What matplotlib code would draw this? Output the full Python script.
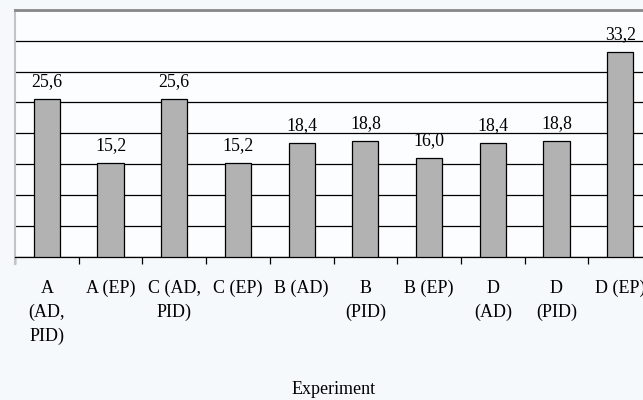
import numpy as np
import matplotlib.pyplot as plt

plt.rcParams['font.family'] = ['Liberation Serif', 'DejaVu Serif']

# experiment groups and measured values
experiments = ["A\n(AD,\nPID)", "A (EP)", "C (AD,\nPID)", "C (EP)", "B (AD)",
               "B\n(PID)", "B (EP)", "D\n(AD)", "D\n(PID)", "D (EP)"]
values = [25.6, 15.2, 25.6, 15.2, 18.4, 18.8, 16.0, 18.4, 18.8, 33.2]

bg = '#f6f9fc'
fig = plt.figure(figsize=(6.43, 4.0), dpi=100, facecolor=bg)
ax = fig.add_axes([15/643, 1 - 256.5/400, 637/643, 246.5/400])
ax.set_facecolor('#fbfdff')

x = np.arange(len(values))
ax.bar(x, values, width=0.41, color='#b2b2b2', edgecolor='black', linewidth=0.9, zorder=3)

for xi, v in zip(x, values):
    ax.text(xi, v + 1.4, f"{v:.1f}".replace('.', ','), ha='center', va='bottom',
            fontsize=12.8, zorder=4)

ax.set_xlim(-0.5, len(values) - 0.5)
ax.set_ylim(0, 40)
ax.set_yticks(np.arange(0, 41, 5))
ax.yaxis.grid(True, color='black', linewidth=0.9, zorder=0)
ax.tick_params(axis='y', left=False, labelleft=False)

# category ticks sit between the bars
ax.set_xticks(np.arange(-0.5, len(values), 1), minor=False)
ax.set_xticklabels([])
ax.set_xticks(x, minor=True)
ax.set_xticklabels(experiments, minor=True, fontsize=13, linespacing=1.5)
ax.tick_params(axis='x', which='major', direction='out', length=5, width=0.9, color='black')
ax.tick_params(axis='x', which='minor', length=0, pad=17)

ax.spines['bottom'].set_color('black')
ax.spines['bottom'].set_linewidth(0.9)
ax.spines['top'].set_color('#888888')
ax.spines['top'].set_linewidth(2)
ax.spines['left'].set_color('#c4c4c4')
ax.spines['left'].set_linewidth(1.5)
ax.spines['left'].set_bounds(-1.2, 40)
ax.spines['right'].set_visible(False)

fig.text(334/643, 1 - 390/400, 'Experiment', ha='center', va='center', fontsize=13)

fig.savefig('out.png', dpi=100, facecolor=bg)
